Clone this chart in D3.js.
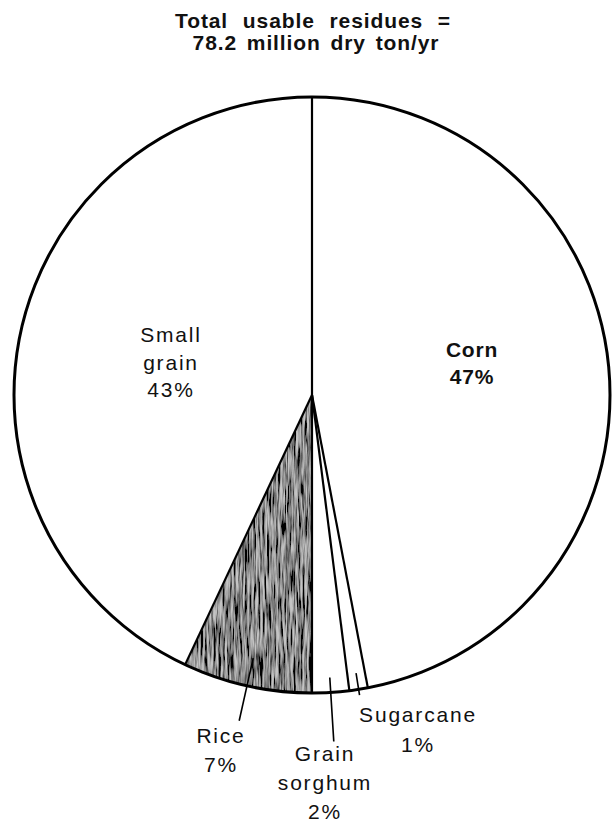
<!DOCTYPE html>
<html>
<head>
<meta charset="utf-8">
<script src="https://cdn.jsdelivr.net/npm/d3@7"></script>
<style>
  html, body { margin: 0; padding: 0; background: #fff; }
  svg { display: block; }
  text { font-family: "Liberation Sans", Arial, Helvetica, sans-serif; fill: #111; }
</style>
</head>
<body>
<svg id="chart" width="612" height="825"></svg>
<script>
// Crop residues by source, percent of total usable residues
const categories = ["Corn", "Sugarcane", "Grain sorghum", "Rice", "Small grain"];
const shares = [47, 1, 2, 7, 43];
const labelLines = [["Corn", "47%"], ["Sugarcane", "1%"], ["Grain", "sorghum", "2%"], ["Rice", "7%"], ["Small", "grain", "43%"]];
const titleLines = ["Total usable residues =", "78.2 million dry ton/yr"];

// Layout constants
const cx = 312, cy = 395, R = 298;
const labelPos = [[472, 357], [418, 722], [325, 761], [221, 743], [171, 342]];
const lineGap = [27, 30, 29, 29, 27.5];
// Leader lines (inner/outer radius as a fraction of R) for the thin slices
const leaders = { 1: [0.945, 1.02], 2: [0.95, 1.165], 3: [0.905, 1.12] };

const svg = d3.select("#chart");
const defs = svg.append("defs");

// Shading for the rice wedge: gray ramp darkening toward its right edge
const grad = defs.append("linearGradient")
  .attr("id", "riceRamp").attr("gradientUnits", "userSpaceOnUse")
  .attr("x1", 175).attr("y1", 0).attr("x2", 322).attr("y2", 0);
grad.append("stop").attr("offset", "0").attr("stop-color", "#c4c4c4");
grad.append("stop").attr("offset", "0.5").attr("stop-color", "#a8a8a8");
grad.append("stop").attr("offset", "0.8").attr("stop-color", "#707070");
grad.append("stop").attr("offset", "0.92").attr("stop-color", "#1c1c1c");
grad.append("stop").attr("offset", "1").attr("stop-color", "#000");

// Streaky screen texture
const f = defs.append("filter").attr("id", "screen")
  .attr("x", "-5%").attr("y", "-5%").attr("width", "110%").attr("height", "110%");
f.append("feTurbulence").attr("type", "fractalNoise")
  .attr("baseFrequency", "0.45 0.035").attr("numOctaves", 3).attr("seed", 7).attr("result", "noise");
f.append("feColorMatrix").attr("in", "noise").attr("type", "saturate").attr("values", 0).attr("result", "g");
const ct = f.append("feComponentTransfer").attr("in", "g").attr("result", "hc");
["feFuncR", "feFuncG", "feFuncB"].forEach(n => ct.append(n).attr("type", "linear").attr("slope", 3.4).attr("intercept", -1.25));
ct.append("feFuncA").attr("type", "linear").attr("slope", 0).attr("intercept", 1);
f.append("feBlend").attr("in", "hc").attr("in2", "SourceGraphic").attr("mode", "multiply").attr("result", "mix");
f.append("feComposite").attr("in", "mix").attr("in2", "SourceGraphic").attr("operator", "in");

const pie = d3.pie().sort(null).value(d => d).startAngle(0).endAngle(2 * Math.PI);
const arcs = pie(shares);
const arc = d3.arc().innerRadius(0).outerRadius(R);

const g = svg.append("g").attr("transform", `translate(${cx},${cy})`);

// Slices
g.selectAll("path.slice").data(arcs).join("path")
  .attr("class", "slice")
  .attr("d", arc)
  .attr("fill", (d, i) => categories[i] === "Rice" ? "url(#riceRamp)" : "#fff")
  .attr("filter", (d, i) => categories[i] === "Rice" ? "url(#screen)" : null)
  .attr("stroke", "none");

// Slice boundaries
g.selectAll("path.edge").data(arcs).join("path")
  .attr("class", "edge")
  .attr("d", d => {
    const a = d.startAngle;
    return `M0,0L${R * Math.sin(a)},${-R * Math.cos(a)}`;
  })
  .attr("stroke", "#000").attr("stroke-width", 2.2).attr("fill", "none");

// Outline
g.append("circle").attr("r", R).attr("fill", "none").attr("stroke", "#000").attr("stroke-width", 3);

// Leader lines for the small slices
Object.keys(leaders).forEach(k => {
  const d = arcs[+k];
  const a = (d.startAngle + d.endAngle) / 2;
  const [r0, r1] = leaders[k];
  g.append("line")
    .attr("x1", R * r0 * Math.sin(a)).attr("y1", -R * r0 * Math.cos(a))
    .attr("x2", R * r1 * Math.sin(a)).attr("y2", -R * r1 * Math.cos(a))
    .attr("stroke", "#000").attr("stroke-width", 1.6);
});

// Slice labels
labelLines.forEach((lines, i) => {
  const t = svg.append("text")
    .attr("text-anchor", "middle")
    .attr("font-size", 21)
    .attr("font-weight", i === 0 ? "bold" : "normal")
    .attr("letter-spacing", i === 0 ? 0.8 : 1.8);
  lines.forEach((s, j) => {
    t.append("tspan").attr("x", labelPos[i][0]).attr("y", labelPos[i][1] + j * lineGap[i]).text(s);
  });
});

// Title
const title = svg.append("text").attr("text-anchor", "middle")
  .attr("font-size", 21).attr("font-weight", "bold").attr("letter-spacing", 0.9);
title.append("tspan").attr("x", 313).attr("y", 28).attr("word-spacing", 8).text(titleLines[0]);
title.append("tspan").attr("x", 316).attr("y", 50).attr("word-spacing", 3).text(titleLines[1]);
</script>
</body>
</html>
